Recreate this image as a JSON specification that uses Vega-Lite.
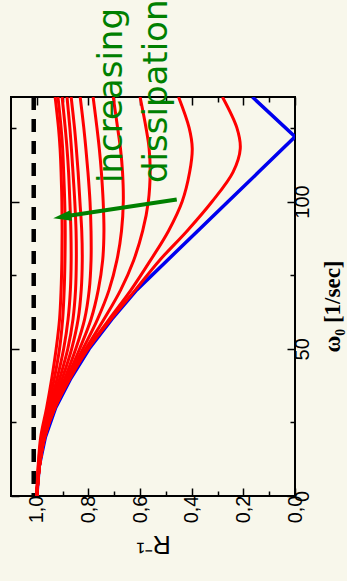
{
  "$schema": "https://vega.github.io/schema/vega-lite/v6.json",
  "width": 284,
  "height": 399,
  "autosize": "none",
  "padding": {"left": 11, "top": 97, "right": 52, "bottom": 85},
  "background": "#f8f7eb",
  "config": {"view": {"stroke": "black", "strokeWidth": 2}},
  "datasets": {
    "blue": [
      {"w": 0, "r": 1.0}, {"w": 10, "r": 0.991}, {"w": 20, "r": 0.967}, {"w": 30, "r": 0.927},
      {"w": 40, "r": 0.868}, {"w": 50, "r": 0.797}, {"w": 60, "r": 0.71}, {"w": 70, "r": 0.613},
      {"w": 80, "r": 0.495}, {"w": 90, "r": 0.377}, {"w": 100, "r": 0.259}, {"w": 110, "r": 0.141},
      {"w": 122, "r": 0.0}, {"w": 135.5, "r": 0.165}
    ],
    "red": [
      {"c": 1, "w": 0, "r": 1.0}, {"c": 1, "w": 10, "r": 0.995}, {"c": 1, "w": 20, "r": 0.985}, {"c": 1, "w": 30, "r": 0.962}, {"c": 1, "w": 40, "r": 0.942}, {"c": 1, "w": 50, "r": 0.925}, {"c": 1, "w": 60, "r": 0.912}, {"c": 1, "w": 70, "r": 0.906}, {"c": 1, "w": 80, "r": 0.903}, {"c": 1, "w": 90, "r": 0.902}, {"c": 1, "w": 100, "r": 0.903}, {"c": 1, "w": 110, "r": 0.906}, {"c": 1, "w": 118, "r": 0.91}, {"c": 1, "w": 125, "r": 0.916}, {"c": 1, "w": 135.5, "r": 0.929},
      {"c": 2, "w": 0, "r": 1.0}, {"c": 2, "w": 10, "r": 0.994}, {"c": 2, "w": 20, "r": 0.982}, {"c": 2, "w": 30, "r": 0.957}, {"c": 2, "w": 40, "r": 0.932}, {"c": 2, "w": 50, "r": 0.912}, {"c": 2, "w": 60, "r": 0.9}, {"c": 2, "w": 70, "r": 0.894}, {"c": 2, "w": 80, "r": 0.891}, {"c": 2, "w": 90, "r": 0.89}, {"c": 2, "w": 100, "r": 0.892}, {"c": 2, "w": 110, "r": 0.896}, {"c": 2, "w": 118, "r": 0.9}, {"c": 2, "w": 125, "r": 0.906}, {"c": 2, "w": 135.5, "r": 0.918},
      {"c": 3, "w": 0, "r": 1.0}, {"c": 3, "w": 10, "r": 0.993}, {"c": 3, "w": 20, "r": 0.979}, {"c": 3, "w": 30, "r": 0.951}, {"c": 3, "w": 40, "r": 0.921}, {"c": 3, "w": 50, "r": 0.896}, {"c": 3, "w": 60, "r": 0.879}, {"c": 3, "w": 70, "r": 0.87}, {"c": 3, "w": 80, "r": 0.867}, {"c": 3, "w": 90, "r": 0.868}, {"c": 3, "w": 100, "r": 0.872}, {"c": 3, "w": 110, "r": 0.877}, {"c": 3, "w": 118, "r": 0.883}, {"c": 3, "w": 125, "r": 0.89}, {"c": 3, "w": 135.5, "r": 0.902},
      {"c": 4, "w": 0, "r": 1.0}, {"c": 4, "w": 10, "r": 0.992}, {"c": 4, "w": 20, "r": 0.976}, {"c": 4, "w": 30, "r": 0.946}, {"c": 4, "w": 40, "r": 0.911}, {"c": 4, "w": 50, "r": 0.88}, {"c": 4, "w": 60, "r": 0.86}, {"c": 4, "w": 70, "r": 0.85}, {"c": 4, "w": 80, "r": 0.847}, {"c": 4, "w": 90, "r": 0.848}, {"c": 4, "w": 100, "r": 0.853}, {"c": 4, "w": 110, "r": 0.86}, {"c": 4, "w": 118, "r": 0.866}, {"c": 4, "w": 125, "r": 0.872}, {"c": 4, "w": 135.5, "r": 0.883},
      {"c": 5, "w": 0, "r": 1.0}, {"c": 5, "w": 10, "r": 0.991}, {"c": 5, "w": 20, "r": 0.974}, {"c": 5, "w": 30, "r": 0.941}, {"c": 5, "w": 40, "r": 0.901}, {"c": 5, "w": 50, "r": 0.865}, {"c": 5, "w": 60, "r": 0.84}, {"c": 5, "w": 70, "r": 0.828}, {"c": 5, "w": 80, "r": 0.824}, {"c": 5, "w": 90, "r": 0.826}, {"c": 5, "w": 100, "r": 0.833}, {"c": 5, "w": 110, "r": 0.84}, {"c": 5, "w": 118, "r": 0.847}, {"c": 5, "w": 125, "r": 0.854}, {"c": 5, "w": 135.5, "r": 0.867},
      {"c": 6, "w": 0, "r": 1.0}, {"c": 6, "w": 10, "r": 0.99}, {"c": 6, "w": 20, "r": 0.972}, {"c": 6, "w": 30, "r": 0.936}, {"c": 6, "w": 40, "r": 0.891}, {"c": 6, "w": 50, "r": 0.849}, {"c": 6, "w": 60, "r": 0.815}, {"c": 6, "w": 70, "r": 0.797}, {"c": 6, "w": 80, "r": 0.79}, {"c": 6, "w": 90, "r": 0.79}, {"c": 6, "w": 100, "r": 0.794}, {"c": 6, "w": 110, "r": 0.802}, {"c": 6, "w": 118, "r": 0.81}, {"c": 6, "w": 125, "r": 0.818}, {"c": 6, "w": 135.5, "r": 0.832},
      {"c": 7, "w": 0, "r": 1.0}, {"c": 7, "w": 10, "r": 0.99}, {"c": 7, "w": 20, "r": 0.971}, {"c": 7, "w": 30, "r": 0.933}, {"c": 7, "w": 40, "r": 0.883}, {"c": 7, "w": 50, "r": 0.834}, {"c": 7, "w": 60, "r": 0.79}, {"c": 7, "w": 70, "r": 0.762}, {"c": 7, "w": 80, "r": 0.745}, {"c": 7, "w": 90, "r": 0.74}, {"c": 7, "w": 100, "r": 0.743}, {"c": 7, "w": 110, "r": 0.75}, {"c": 7, "w": 118, "r": 0.758}, {"c": 7, "w": 125, "r": 0.767}, {"c": 7, "w": 135.5, "r": 0.782},
      {"c": 8, "w": 0, "r": 1.0}, {"c": 8, "w": 10, "r": 0.99}, {"c": 8, "w": 20, "r": 0.97}, {"c": 8, "w": 30, "r": 0.931}, {"c": 8, "w": 40, "r": 0.878}, {"c": 8, "w": 50, "r": 0.821}, {"c": 8, "w": 60, "r": 0.765}, {"c": 8, "w": 70, "r": 0.72}, {"c": 8, "w": 80, "r": 0.69}, {"c": 8, "w": 90, "r": 0.672}, {"c": 8, "w": 100, "r": 0.665}, {"c": 8, "w": 110, "r": 0.668}, {"c": 8, "w": 118, "r": 0.676}, {"c": 8, "w": 125, "r": 0.687}, {"c": 8, "w": 135.5, "r": 0.704},
      {"c": 9, "w": 0, "r": 1.0}, {"c": 9, "w": 10, "r": 0.99}, {"c": 9, "w": 20, "r": 0.97}, {"c": 9, "w": 30, "r": 0.93}, {"c": 9, "w": 40, "r": 0.874}, {"c": 9, "w": 50, "r": 0.81}, {"c": 9, "w": 60, "r": 0.74}, {"c": 9, "w": 70, "r": 0.675}, {"c": 9, "w": 80, "r": 0.625}, {"c": 9, "w": 90, "r": 0.59}, {"c": 9, "w": 100, "r": 0.568}, {"c": 9, "w": 110, "r": 0.561}, {"c": 9, "w": 118, "r": 0.565}, {"c": 9, "w": 125, "r": 0.577}, {"c": 9, "w": 135.5, "r": 0.6},
      {"c": 10, "w": 0, "r": 1.0}, {"c": 10, "w": 10, "r": 0.99}, {"c": 10, "w": 20, "r": 0.97}, {"c": 10, "w": 30, "r": 0.93}, {"c": 10, "w": 40, "r": 0.872}, {"c": 10, "w": 50, "r": 0.803}, {"c": 10, "w": 60, "r": 0.72}, {"c": 10, "w": 70, "r": 0.635}, {"c": 10, "w": 80, "r": 0.56}, {"c": 10, "w": 90, "r": 0.49}, {"c": 10, "w": 100, "r": 0.437}, {"c": 10, "w": 110, "r": 0.408}, {"c": 10, "w": 118, "r": 0.398}, {"c": 10, "w": 125, "r": 0.41}, {"c": 10, "w": 135.5, "r": 0.451},
      {"c": 11, "w": 0, "r": 1.0}, {"c": 11, "w": 10, "r": 0.99}, {"c": 11, "w": 20, "r": 0.969}, {"c": 11, "w": 30, "r": 0.93}, {"c": 11, "w": 40, "r": 0.871}, {"c": 11, "w": 50, "r": 0.801}, {"c": 11, "w": 60, "r": 0.713}, {"c": 11, "w": 70, "r": 0.618}, {"c": 11, "w": 80, "r": 0.525}, {"c": 11, "w": 90, "r": 0.418}, {"c": 11, "w": 100, "r": 0.321}, {"c": 11, "w": 110, "r": 0.24}, {"c": 11, "w": 118, "r": 0.212}, {"c": 11, "w": 125, "r": 0.225}, {"c": 11, "w": 135.5, "r": 0.281}
    ]
  },
  "layer": [
    {
      "data": {"name": "blue"},
      "mark": {"type": "line", "color": "#0000ee", "strokeWidth": 3.5, "clip": true},
      "encoding": {
        "x": {
          "field": "r", "type": "quantitative",
          "scale": {"domain": [0, 1.1], "reverse": true, "nice": false, "zero": false},
          "axis": {
            "orient": "bottom",
            "values": [0, 0.1, 0.2, 0.3, 0.4, 0.5, 0.6, 0.7, 0.8, 0.9, 1.0],
            "labelExpr": "round(datum.value*10) % 2 == 0 ? replace(format(datum.value, '.1f'), '.', ',') : ''",
            "tickSize": {"condition": {"test": "round(datum.value*10) % 2 == 0", "value": -8}, "value": -5},
            "tickColor": "black", "tickWidth": 1.5,
            "domain": false, "grid": false,
            "labelAngle": 270, "labelAlign": "right", "labelBaseline": "middle",
            "labelFont": "Liberation Sans", "labelFontSize": 20, "labelColor": "black",
            "labelPadding": 7, "labelFlush": false, "labelOverlap": false, "labelBound": false,
            "title": "R⁻¹", "titleAngle": 180, "titleFont": "Liberation Sans", "titleFontSize": 25,
            "titleFontWeight": "normal", "titleBaseline": "bottom", "titlePadding": 8, "titleColor": "black"
          }
        },
        "y": {
          "field": "w", "type": "quantitative",
          "scale": {"domain": [0, 135.5], "nice": false, "zero": false},
          "axis": {
            "orient": "right",
            "values": [0, 25, 50, 75, 100, 125],
            "labelExpr": "datum.value % 50 == 0 ? datum.label : ''",
            "tickSize": {"condition": {"test": "datum.value % 50 == 0", "value": -8}, "value": -5},
            "tickColor": "black", "tickWidth": 1.5,
            "domain": false, "grid": false,
            "labelAngle": 270, "labelAlign": "center", "labelBaseline": "top",
            "labelFont": "Liberation Sans", "labelFontSize": 20, "labelColor": "black",
            "labelPadding": 5, "labelFlush": false, "labelOverlap": false, "labelBound": false,
            "title": "ω₀ [1/sec]", "titleAngle": 270, "titleFont": "Liberation Serif", "titleFontSize": 23,
            "titleFontWeight": "bold", "titleBaseline": "top", "titlePadding": 6, "titleColor": "black",
            "titleY": 209
          }
        },
        "order": {"field": "w", "type": "quantitative"}
      }
    },
    {
      "data": {"values": [{"r": 1.012}]},
      "mark": {"type": "rule", "color": "black", "strokeWidth": 4.5, "strokeDash": [13, 9]},
      "encoding": {
        "x": {"field": "r", "type": "quantitative", "axis": null}
      }
    },
    {
      "data": {"name": "red"},
      "mark": {"type": "line", "color": "#ff0000", "strokeWidth": 3, "interpolate": "catmull-rom", "clip": true},
      "encoding": {
        "x": {
          "field": "r", "type": "quantitative",
          "axis": {
            "orient": "top",
            "values": [0, 0.1, 0.2, 0.3, 0.4, 0.5, 0.6, 0.7, 0.8, 0.9, 1.0],
            "labels": false, "domain": false, "grid": false, "title": null,
            "tickSize": {"condition": {"test": "round(datum.value*10) % 2 == 0", "value": -8}, "value": -5},
            "tickColor": "black", "tickWidth": 1.5
          }
        },
        "y": {
          "field": "w", "type": "quantitative",
          "axis": {
            "orient": "left",
            "values": [0, 25, 50, 75, 100, 125],
            "labels": false, "domain": false, "grid": false, "title": null,
            "tickSize": {"condition": {"test": "datum.value % 50 == 0", "value": -8}, "value": -5},
            "tickColor": "black", "tickWidth": 1.5
          }
        },
        "detail": {"field": "c", "type": "nominal"},
        "order": {"field": "w", "type": "quantitative"}
      }
    },
    {
      "data": {"values": [{"r": 0.458, "w": 100.7}, {"r": 0.902, "w": 94.8}]},
      "mark": {"type": "line", "color": "#008000", "strokeWidth": 4},
      "encoding": {
        "x": {"field": "r", "type": "quantitative", "axis": null},
        "y": {"field": "w", "type": "quantitative", "axis": null}
      }
    },
    {
      "data": {"values": [{"r": 0.902, "w": 94.8}]},
      "mark": {"type": "point", "shape": "M -1 0 L 1 -0.6 L 1 0.6 Z", "filled": true, "size": 324, "angle": 351.3, "color": "#008000", "opacity": 1, "strokeWidth": 0},
      "encoding": {
        "x": {"field": "r", "type": "quantitative", "axis": null},
        "y": {"field": "w", "type": "quantitative", "axis": null}
      }
    },
    {
      "data": {"values": [{"t": "increasing", "r": 0.67, "w": 106.3}, {"t": "dissipation", "r": 0.496, "w": 106.3}]},
      "mark": {"type": "text", "angle": 270, "align": "left", "baseline": "alphabetic", "font": "DejaVu Sans", "fontSize": 34, "color": "#008000"},
      "encoding": {
        "x": {"field": "r", "type": "quantitative", "axis": null},
        "y": {"field": "w", "type": "quantitative", "axis": null},
        "text": {"field": "t"}
      }
    }
  ],
  "resolve": {"axis": {"x": "independent", "y": "independent"}}
}
